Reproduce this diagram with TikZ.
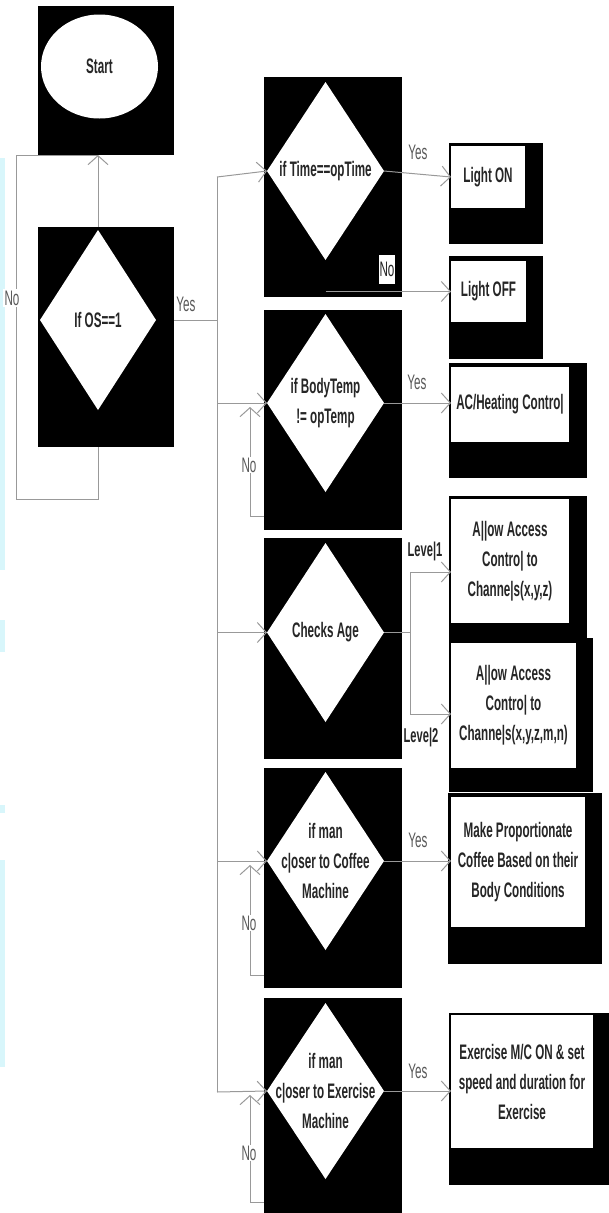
\documentclass[tikz,border=0pt]{standalone}
\usepackage{fontspec}
\setmainfont{Liberation Sans}[FakeStretch=0.555]
\usetikzlibrary{shapes.geometric,arrows.meta}
\definecolor{edgecyan}{RGB}{216,246,251}
\begin{document}
\begin{tikzpicture}[x=1pt,y=-1pt,
  blk/.style={rectangle,fill=black,draw=none,inner sep=0pt,outer sep=0pt},
  wbox/.style={rectangle,fill=white,draw=none,inner sep=0pt,outer sep=0pt,align=center,text=black!85,font=\bfseries\fontsize{21}{30}\selectfont},
  dia/.style={diamond,fill=white,draw=none,inner sep=0pt,outer sep=0pt},
  dtxt/.style={align=center,text=black!85,font=\bfseries\fontsize{21}{30}\selectfont,inner sep=0pt},
  lbl/.style={text=black!65,font=\fontsize{21}{24}\selectfont,inner sep=1pt,fill=white},
  lvl/.style={text=black!85,font=\bfseries\fontsize{20}{24}\selectfont,inner sep=0pt},
  conn/.style={draw=black!40,line width=1pt},
  arr/.style={conn,-{Straight Barb[length=9pt,width=20pt]}},
]
\useasboundingbox[fill=white] (0,0) rectangle (609,1213);
% faint cyan edge strips
\fill[edgecyan] (0,158) rectangle (5,570);
\fill[edgecyan] (0,620) rectangle (5,652);
\fill[edgecyan] (0,805) rectangle (5,813);
\fill[edgecyan] (0,860) rectangle (5,1067);

% ---- Start / OS ----
\node[blk,minimum width=136pt,minimum height=149pt] (startbox) at (106,80.5) {};
\node[ellipse,fill=white,inner sep=0pt,minimum width=117pt,minimum height=104pt,text=black!85,font=\bfseries\fontsize{21}{24}\selectfont] (start) at (99.5,66.5) {Start};
\node[blk,minimum width=136pt,minimum height=220pt] (osbox) at (106,337) {};
\node[dia,minimum width=116pt,minimum height=180pt] (osdia) at (98,320) {};
\node[dtxt] at (osdia) {If OS==1};

% ---- Time ----
\node[blk,minimum width=138pt,minimum height=220pt] (timebox) at (333,187) {};
\node[dia,minimum width=117pt,minimum height=178pt] (timedia) at (325.5,171) {};
\node[dtxt] at (timedia) {if Time==opTime};
\node[blk,minimum width=94pt,minimum height=101pt] (lonb) at (496,193.5) {};
\node[wbox,minimum width=74pt,minimum height=62pt] (lonw) at (488,177) {Light ON};
\node[blk,minimum width=94pt,minimum height=103pt] (loffb) at (496,307.5) {};
\node[wbox,minimum width=75pt,minimum height=61pt] (loffw) at (488.5,291.5) {Light OFF};
\node[fill=white,text=black!85,font=\fontsize{21}{24}\selectfont,inner sep=0pt,minimum width=16pt,minimum height=29pt] (timeno) at (387,269.5) {No};

% ---- Body temp ----
\node[blk,minimum width=138pt,minimum height=220pt] (bodybox) at (333,420) {};
\node[dia,minimum width=117pt,minimum height=178pt] (bodydia) at (325.5,403) {};
\node[dtxt] at (bodydia) {if BodyTemp\\!= opTemp};
\node[blk,minimum width=138pt,minimum height=115pt] (acb) at (518,420.5) {};
\node[wbox,minimum width=118pt,minimum height=75pt] (acw) at (510,404.5) {AC/Heating Contro|};

% ---- Age ----
\node[blk,minimum width=138pt,minimum height=221pt] (agebox) at (333,648.5) {};
\node[dia,minimum width=117pt,minimum height=179pt] (agedia) at (325.5,632.5) {};
\node[dtxt] at (agedia) {Checks Age};
\node[blk,minimum width=138pt,minimum height=142pt] (l1b) at (518,567) {};
\node[wbox,minimum width=118pt,minimum height=124pt] (l1w) at (510,561) {A||ow Access\\Contro| to\\Channe|s(x,y,z)};
\node[blk,minimum width=144pt,minimum height=154pt] (l2b) at (521,715) {};
\node[wbox,minimum width=125pt,minimum height=125pt] (l2w) at (513.5,705.5) {A||ow Access\\Contro| to\\Channe|s(x,y,z,m,n)};

% ---- Coffee ----
\node[blk,minimum width=138pt,minimum height=220pt] (cofbox) at (333,878) {};
\node[dia,minimum width=117pt,minimum height=178pt] (cofdia) at (325.5,861) {};
\node[dtxt] at (cofdia) {if man\\c|oser to Coffee\\Machine};
\node[blk,minimum width=154pt,minimum height=171pt] (cofb) at (525,878.5) {};
\node[wbox,minimum width=134pt,minimum height=130pt] (cofw) at (518,862) {Make Proportionate\\Coffee Based on their\\Body Conditions};

% ---- Exercise ----
\node[blk,minimum width=138pt,minimum height=217pt] (exbox) at (333,1106.5) {};
\node[dia,minimum width=117pt,minimum height=176pt] (exdia) at (325.5,1091) {};
\node[dtxt] at (exdia) {if man\\c|oser to Exercise\\Machine};
\node[blk,minimum width=162pt,minimum height=172pt] (exb) at (530,1099) {};
\node[wbox,minimum width=142pt,minimum height=133pt] (exw) at (522,1081.5) {Exercise M/C ON \& set\\speed and duration for\\Exercise};

% ---- connectors ----
\coordinate (noL) at (16,499);
\coordinate (ttop) at (217,177);
\coordinate (tbot) at (217,1092);
\draw[arr] (osdia.north |- osbox.north) -- (osdia.north |- startbox.south);
\draw[conn] (osdia.south |- osbox.south) |- (noL) |- (osdia.north |- startbox.south);
\node[lbl,inner sep=2pt] at (12,298) {No};
\draw[conn] (osbox.east |- osdia.east) -- (ttop |- osdia.east);
\node[lbl,fill=none] at (186,304) {Yes};
\draw[conn] (ttop) -- (tbot);
\draw[arr] (ttop) -- (timedia.west);
\draw[arr] (ttop |- bodydia.west) -- (bodydia.west);
\draw[arr] (ttop |- agedia.west) -- (agedia.west);
\draw[arr] (ttop |- cofdia.west) -- (cofdia.west);
\draw[arr] (tbot) -- (exdia.west);

% time
\draw[arr] (timedia.east) -- (lonw.west);
\node[lbl,fill=none] at (418,152) {Yes};
\draw[arr] (timedia.south |- loffw.west) -- (loffw.west);
\node[fill=white,text=black!85,font=\fontsize{21}{24}\selectfont,inner sep=0pt,minimum width=16pt,minimum height=29pt] at (timeno) {No};

% body
\coordinate (bno) at (250,516);
\draw[arr] (bodybox.west |- bno) -| ([yshift=-4pt]bno |- bodydia.west);
\node[lbl] at (249,465) {No};
\draw[arr] (bodydia.east) -- (acw.west |- bodydia.east);
\node[lbl,fill=none] at (417,382) {Yes};

% age
\coordinate (abr) at (410,632.5);
\draw[conn] (agedia.east) -- (abr);
\draw[arr] (abr) |- ([yshift=-11pt]l1w.west);
\draw[arr] (abr) |- ([yshift=-8.5pt]l2w.west);
\node[lvl] at (425,551) {Leve|1};
\node[lvl] at (421,737) {Leve|2};

% coffee
\coordinate (cno) at (250,975);
\draw[arr] (cofbox.west |- cno) -| ([yshift=-4pt]cno |- cofdia.west);
\node[lbl] at (249,923) {No};
\draw[arr] (cofdia.east) -- (cofw.west |- cofdia.east);
\node[lbl,fill=none] at (418,840) {Yes};

% exercise
\coordinate (eno) at (250,1202);
\draw[arr] (exbox.west |- eno) -| ([yshift=-4pt]eno |- exdia.west);
\node[lbl] at (249,1153) {No};
\draw[arr] (exdia.east) -- (exw.west |- exdia.east);
\node[lbl,fill=none] at (418,1071) {Yes};
\end{tikzpicture}
\end{document}
